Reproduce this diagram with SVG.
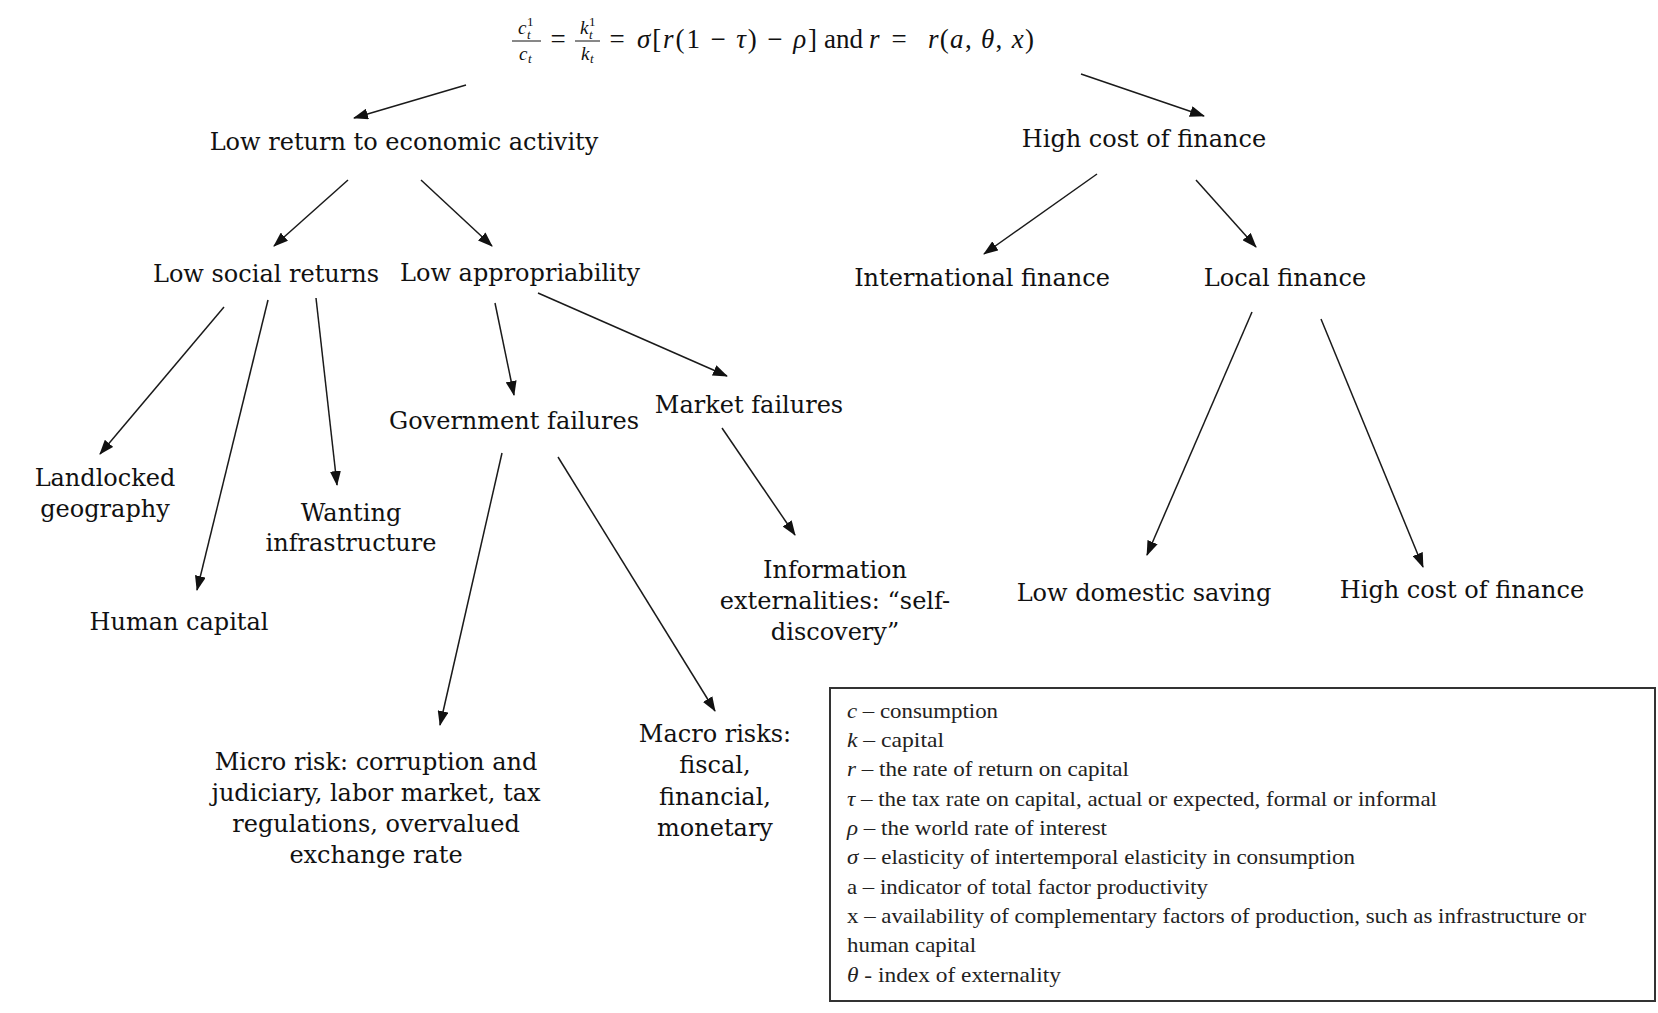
<svg xmlns="http://www.w3.org/2000/svg" width="1658" height="1013" viewBox="0 0 1658 1013">
<style>
.n{font-family:"DejaVu Serif","Liberation Serif",serif;font-size:24px;fill:#111;text-anchor:middle}
.f{font-family:"Liberation Serif","DejaVu Serif",serif;font-size:27px;fill:#111}
.fs{font-family:"Liberation Serif","DejaVu Serif",serif;font-size:19px;fill:#111}
.fss{font-size:13px}
.i{font-style:italic}
.u{font-style:normal}
.lg{font-family:"Liberation Serif","DejaVu Serif",serif;font-size:22px;fill:#222}
.c{stroke:#1a1a1a;stroke-width:1.5;fill:none;marker-end:url(#ah)}
</style>
<defs>
<marker id="ah" viewBox="0 0 15 11" refX="14" refY="5.5" markerWidth="15" markerHeight="11" markerUnits="userSpaceOnUse" orient="auto">
<path d="M0,0 L15,5.5 L0,11 Z" fill="#111"/>
</marker>
</defs>
<rect width="1658" height="1013" fill="#fff"/>

<g id="formula">
<text class="fs i" x="518" y="34">c<tspan class="fss u" x="527" y="26">1</tspan><tspan class="fss" x="527" y="39">t</tspan></text>
<line x1="512" y1="41" x2="541" y2="41" stroke="#111" stroke-width="1"/>
<text class="fs i" x="519" y="60">c<tspan class="fss" x="528" y="63">t</tspan></text>
<text class="f" x="558" y="48" text-anchor="middle">=</text>
<text class="fs i" x="580" y="34">k<tspan class="fss u" x="589" y="26">1</tspan><tspan class="fss" x="589" y="39">t</tspan></text>
<line x1="575" y1="41" x2="600" y2="41" stroke="#111" stroke-width="1"/>
<text class="fs i" x="581" y="60">k<tspan class="fss" x="590" y="63">t</tspan></text>
<text class="f" x="617" y="48" text-anchor="middle">=</text>
<text class="f" x="637" y="48" textLength="180" lengthAdjust="spacing"><tspan class="i">σ</tspan>[<tspan class="i">r</tspan>(1 − <tspan class="i">τ</tspan>) − <tspan class="i">ρ</tspan>]</text>
<text class="f" x="824" y="48">and</text>
<text class="f i" x="869" y="48">r</text>
<text class="f" x="899" y="48" text-anchor="middle">=</text>
<text class="f" x="928" y="48" textLength="106" lengthAdjust="spacing"><tspan class="i">r</tspan>(<tspan class="i">a</tspan>, <tspan class="i">θ</tspan>, <tspan class="i">x</tspan>)</text>
</g>

<g id="connectors">
<line class="c" x1="466" y1="85" x2="354" y2="118"/>
<line class="c" x1="1081" y1="74" x2="1204" y2="116"/>
<line class="c" x1="348" y1="180" x2="274" y2="246"/>
<line class="c" x1="421" y1="180" x2="492" y2="246"/>
<line class="c" x1="1097" y1="174" x2="984" y2="254"/>
<line class="c" x1="1196" y1="180" x2="1256" y2="247"/>
<line class="c" x1="224" y1="307" x2="100" y2="454"/>
<line class="c" x1="268" y1="300" x2="197" y2="590"/>
<line class="c" x1="316" y1="298" x2="337" y2="485"/>
<line class="c" x1="495" y1="303" x2="514" y2="395"/>
<line class="c" x1="538" y1="293" x2="727" y2="376"/>
<line class="c" x1="502" y1="453" x2="440" y2="725"/>
<line class="c" x1="558" y1="457" x2="715" y2="711"/>
<line class="c" x1="722" y1="428" x2="795" y2="535"/>
<line class="c" x1="1252" y1="312" x2="1147" y2="555"/>
<line class="c" x1="1321" y1="319" x2="1423" y2="567"/>
</g>

<g id="n-low-return"><text class="n" x="404" y="150">Low return to economic activity</text></g>
<g id="n-high-cost"><text class="n" x="1144" y="147">High cost of finance</text></g>
<g id="n-low-social"><text class="n" x="266" y="282">Low social returns</text></g>
<g id="n-low-approp"><text class="n" x="520" y="281">Low appropriability</text></g>
<g id="n-international"><text class="n" x="982" y="286">International finance</text></g>
<g id="n-local"><text class="n" x="1285" y="286">Local finance</text></g>
<g id="n-government"><text class="n" x="514" y="429">Government failures</text></g>
<g id="n-market"><text class="n" x="749" y="413">Market failures</text></g>
<g id="n-landlocked"><text class="n" x="105" y="486">Landlocked</text><text class="n" x="105" y="517">geography</text></g>
<g id="n-wanting"><text class="n" x="351" y="521">Wanting</text><text class="n" x="351" y="551">infrastructure</text></g>
<g id="n-human"><text class="n" x="179" y="630">Human capital</text></g>
<g id="n-information"><text class="n" x="835" y="578">Information</text><text class="n" x="835" y="609">externalities: “self-</text><text class="n" x="835" y="640">discovery”</text></g>
<g id="n-low-saving"><text class="n" x="1144" y="601">Low domestic saving</text></g>
<g id="n-high-cost-2"><text class="n" x="1462" y="598">High cost of finance</text></g>
<g id="n-micro"><text class="n" x="376" y="770">Micro risk: corruption and</text><text class="n" x="376" y="801">judiciary, labor market, tax</text><text class="n" x="376" y="832">regulations, overvalued</text><text class="n" x="376" y="863">exchange rate</text></g>
<g id="n-macro"><text class="n" x="715" y="742">Macro risks:</text><text class="n" x="715" y="773">fiscal,</text><text class="n" x="715" y="805">financial,</text><text class="n" x="715" y="836">monetary</text></g>

<g id="legend">
<rect x="830" y="688" width="825" height="313" fill="#fff" stroke="#333" stroke-width="2"/>
<text class="lg" x="847" y="718" textLength="151" lengthAdjust="spacingAndGlyphs"><tspan class="i">c</tspan> – consumption</text>
<text class="lg" x="847" y="747" textLength="97" lengthAdjust="spacingAndGlyphs"><tspan class="i">k</tspan> – capital</text>
<text class="lg" x="847" y="776" textLength="282" lengthAdjust="spacingAndGlyphs"><tspan class="i">r</tspan> – the rate of return on capital</text>
<text class="lg" x="847" y="806" textLength="590" lengthAdjust="spacingAndGlyphs"><tspan class="i">τ</tspan> – the tax rate on capital, actual or expected, formal or informal</text>
<text class="lg" x="847" y="835" textLength="260" lengthAdjust="spacingAndGlyphs"><tspan class="i">ρ</tspan> – the world rate of interest</text>
<text class="lg" x="847" y="864" textLength="508" lengthAdjust="spacingAndGlyphs"><tspan class="i">σ</tspan> – elasticity of intertemporal elasticity in consumption</text>
<text class="lg" x="847" y="894" textLength="361" lengthAdjust="spacingAndGlyphs">a – indicator of total factor productivity</text>
<text class="lg" x="847" y="923" textLength="739" lengthAdjust="spacingAndGlyphs">x – availability of complementary factors of production, such as infrastructure or</text>
<text class="lg" x="847" y="952" textLength="129" lengthAdjust="spacingAndGlyphs">human capital</text>
<text class="lg" x="847" y="982" textLength="214" lengthAdjust="spacingAndGlyphs"><tspan class="i">θ</tspan> - index of externality</text>
</g>
</svg>
